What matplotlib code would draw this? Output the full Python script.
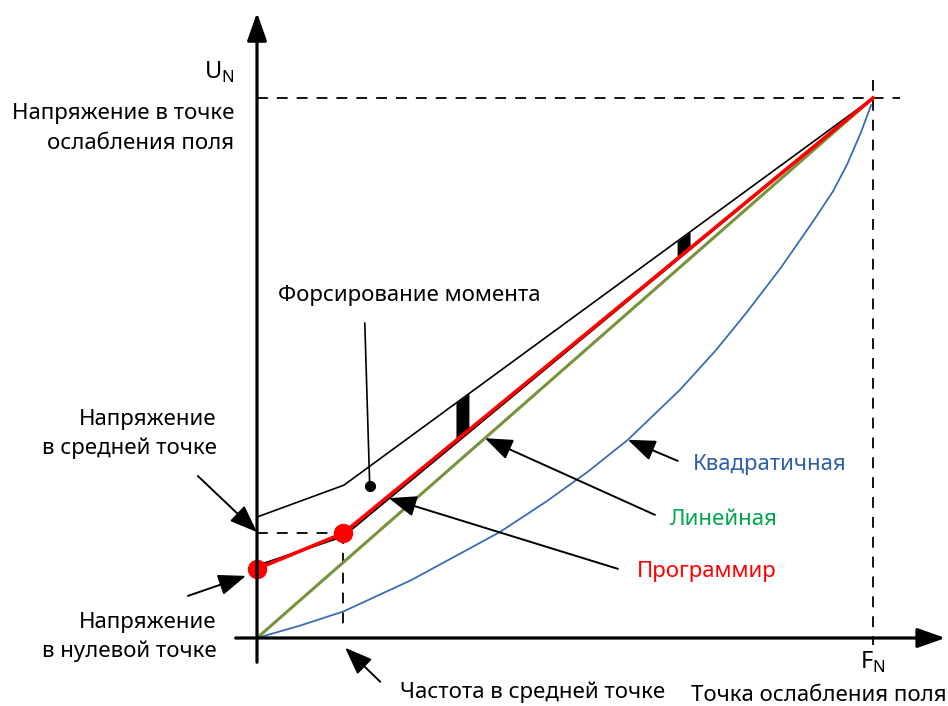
import numpy as np
import matplotlib
matplotlib.use('Agg')
import matplotlib.pyplot as plt

plt.rcParams['font.family'] = ['Noto Sans', 'DejaVu Sans']

# частота в долях F_N, напряжение в долях U_N
f_prog = [0.0, 0.14, 1.0]
u_prog = [0.128, 0.194, 1.0]          # программируемая характеристика
u_under = [0.134, 0.188, 1.0]         # тонкая чёрная линия под красной
f_boost = [0.0, 0.141, 1.0]
u_boost = [0.224, 0.283, 1.0]         # форсирование момента
f_lin = [0.0, 1.0]
u_lin = [0.0, 1.0]
f_quad = [0.0, 0.07, 0.14, 0.25, 0.394, 0.47, 0.536, 0.602, 0.687, 0.745, 0.795,
          0.85, 0.903, 0.935, 0.958, 0.98, 0.997]
u_quad = [0.0, 0.023, 0.049, 0.107, 0.196, 0.253, 0.307, 0.367, 0.46, 0.533, 0.603,
          0.685, 0.772, 0.827, 0.877, 0.935, 0.987]
bar1 = [0.323, 0.344]
bar2 = [0.682, 0.703]

fig = plt.figure(figsize=(9.48, 7.06), dpi=100)
ax = fig.add_axes([0, 0, 1, 1])
ax.set_xlim(-257 / 616, 691 / 616)
ax.set_ylim(-68 / 540, 638 / 540)
ax.axis('off')

# оси со стрелками
ax.annotate('', xy=(0, 1.163), xytext=(0, -0.05),
            arrowprops=dict(arrowstyle='-|>,head_length=1.7,head_width=0.6', lw=2.3, color='black'))
ax.annotate('', xy=(1.122, 0), xytext=(-0.039, 0),
            arrowprops=dict(arrowstyle='-|>,head_length=1.7,head_width=0.6', lw=2.3, color='black'))

# пунктиры
dash = dict(color='black', lw=1.3, dashes=(6, 5))
ax.plot([0, 1.044], [1, 1], **dash)
ax.plot([1, 1], [1.033, -0.013], **dash)
ax.plot([0, 0.14], [0.194, 0.194], **dash)
ax.plot([0.14, 0.14], [0.194, 0.013], **dash)

# кривые
ax.plot(f_quad, u_quad, color='#3A6CB5', lw=1.3)
ax.plot(f_lin, u_lin, color='#77933C', lw=2.2)
ax.plot(f_boost, u_boost, color='black', lw=1.2)
ax.plot(f_prog, u_under, color='black', lw=1.3)
ax.plot(f_prog, u_prog, color='#FF0000', lw=2.6)
ax.plot(f_prog[:2], u_prog[:2], 'o', color='#FF0000', ms=13)

# чёрные вставки между форсированием и программируемой кривой
for b in (bar1, bar2):
    xs = np.array(b)
    top = np.interp(xs, f_boost, u_boost)
    bot = np.interp(xs, f_prog, u_prog)
    ax.fill_between(xs, bot, top, color='black', lw=0)

# выноски
arr = dict(arrowstyle='-|>,head_length=1.7,head_width=0.65', lw=1.4, color='black',
           shrinkA=0, shrinkB=0)
ax.annotate('', xy=(0, 0.196), xytext=(-0.096, 0.30), arrowprops=arr)
ax.annotate('', xy=(-0.018, 0.115), xytext=(-0.112, 0.078), arrowprops=arr)
ax.annotate('', xy=(0.143, -0.018), xytext=(0.2, -0.081), arrowprops=arr)
ax.annotate('', xy=(0.214, 0.259), xytext=(0.586, 0.128), arrowprops=arr)
ax.annotate('', xy=(0.37, 0.37), xytext=(0.646, 0.228), arrowprops=arr)
ax.annotate('', xy=(0.602, 0.367), xytext=(0.683, 0.328), arrowprops=arr)
ax.plot([0.175, 0.183], [0.583, 0.281], color='black', lw=1.2)
ax.plot([0.183], [0.281], 'o', color='black', ms=7)

fs = 16
ax.text(-0.037, 1.035, 'U$_\\mathregular{N}$', ha='right', va='baseline', fontsize=17)
ax.text(-0.037, 0.943, 'Напряжение в точке\nослабления поля', ha='right', va='center',
        fontsize=fs, linespacing=1.55)
ax.text(-0.065, 0.378, 'Напряжение\nв средней точке', ha='right', va='center',
        fontsize=fs, linespacing=1.5)
ax.text(-0.065, 0.002, 'Напряжение\nв нулевой точке', ha='right', va='center',
        fontsize=fs, linespacing=1.5)
ax.text(0.232, -0.1, 'Частота в средней точке', ha='left', va='center', fontsize=fs)
ax.text(1.0, -0.045, 'F$_\\mathregular{N}$', ha='center', va='center', fontsize=17)
ax.text(0.704, -0.107, 'Точка ослабления поля', ha='left', va='center', fontsize=fs)
ax.text(0.034, 0.635, 'Форсирование момента', ha='left', va='center', fontsize=fs)
ax.text(0.708, 0.322, 'Квадратичная', ha='left', va='center', fontsize=fs, color='#2E5FA8')
ax.text(0.67, 0.22, 'Линейная', ha='left', va='center', fontsize=fs, color='#00A550')
ax.text(0.617, 0.124, 'Программир', ha='left', va='center', fontsize=fs, color='#FF0000')

fig.savefig('out.png', dpi=100)
